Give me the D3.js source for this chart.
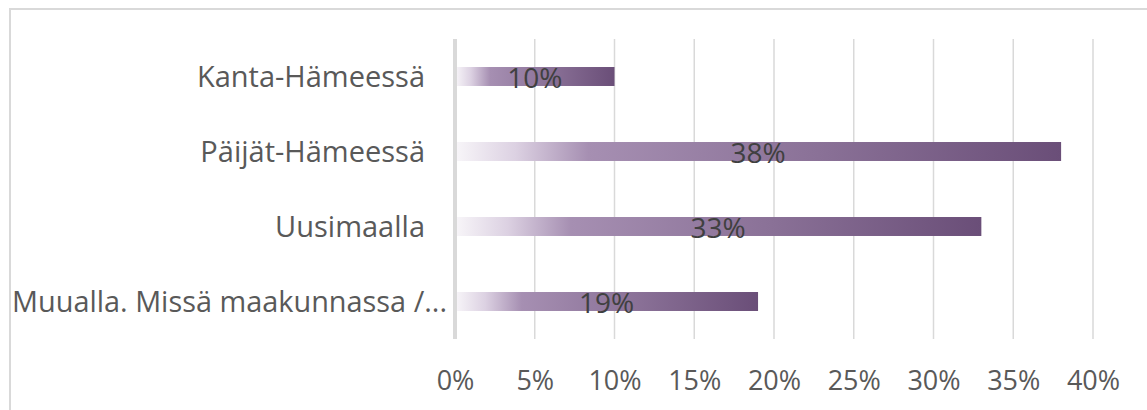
<!DOCTYPE html>
<html><head><meta charset="utf-8">
<script src="https://cdn.jsdelivr.net/npm/d3@7"></script>
<style>
html,body{margin:0;padding:0;background:#fff;}
svg{display:block;font-family:"Open Sans",sans-serif;}
</style></head>
<body>
<svg id="chart" width="1147" height="410"></svg>
<script>
const categories = ["Kanta-Hämeessä", "Päijät-Hämeessä", "Uusimaalla", "Muualla. Missä maakunnassa /..."];
const values = [10, 38, 33, 19];
const tickValues = [0, 5, 10, 15, 20, 25, 30, 35, 40];
const tickLabels = ["0%", "5%", "10%", "15%", "20%", "25%", "30%", "35%", "40%"];

const svg = d3.select("#chart");
const W = 1147, H = 410;
const plot = {left: 455, right: 1093, top: 39, bottom: 339};

const x = d3.scaleLinear().domain([0, 40]).range([plot.left, plot.right]);
const y = d3.scaleBand().domain(categories).range([plot.top, plot.bottom])
  .paddingInner(0.747).paddingOuter(0.3735);

// frame
svg.append("rect").attr("x", 10).attr("y", 9).attr("width", W + 20).attr("height", H + 20)
  .attr("fill", "#fff").attr("stroke", "#d9d9d9").attr("stroke-width", 2);

// gradient
const defs = svg.append("defs");
const grad = defs.append("linearGradient").attr("id", "barGrad")
  .attr("x1", "0%").attr("x2", "100%").attr("y1", "0%").attr("y2", "0%");
[[0, "#f8f6f9"], [0.1, "#dcd1e2"], [0.22, "#a68fb2"], [0.6, "#8a7197"], [1, "#6a4e78"]]
  .forEach(([o, c]) => grad.append("stop").attr("offset", o).attr("stop-color", c));

// gridlines
svg.append("g").selectAll("line").data(tickValues.filter(d => d > 0)).join("line")
  .attr("x1", d => x(d)).attr("x2", d => x(d))
  .attr("y1", plot.top).attr("y2", plot.bottom)
  .attr("stroke", "#d9d9d9").attr("stroke-width", 1.5);

// bars
svg.append("g").selectAll("rect").data(categories).join("rect")
  .attr("x", x(0)).attr("y", d => y(d))
  .attr("width", (d, i) => x(values[i]) - x(0))
  .attr("height", y.bandwidth())
  .attr("fill", "url(#barGrad)");

// vertical axis line
svg.append("line").attr("x1", x(0)).attr("x2", x(0))
  .attr("y1", plot.top).attr("y2", plot.bottom)
  .attr("stroke", "#d9d9d9").attr("stroke-width", 4);

// x axis
const xAxis = d3.axisBottom(x).tickValues(tickValues)
  .tickFormat((d, i) => tickLabels[i]).tickSize(0).tickPadding(0);
const gx = svg.append("g").attr("transform", `translate(0,${plot.bottom})`).call(xAxis);
gx.select(".domain").remove();
gx.selectAll("text").attr("y", 51).attr("dy", 0)
  .attr("font-family", "Open Sans, sans-serif").attr("font-size", 27).attr("fill", "#595959");

// y axis
const yAxis = d3.axisLeft(y).tickSize(0).tickPadding(0);
const gy = svg.append("g").attr("transform", `translate(425,0)`).call(yAxis);
gy.select(".domain").remove();
gy.selectAll("text").attr("dy", "0.35em")
  .attr("font-family", "Open Sans, sans-serif").attr("font-size", 29).attr("fill", "#595959");
// truncated long label spans the full available width
gy.selectAll("text").filter((d, i) => i === categories.length - 1)
  .attr("x", 22).attr("textLength", 435).attr("lengthAdjust", "spacingAndGlyphs");

// data labels
svg.append("g").selectAll("text").data(categories).join("text")
  .attr("x", (d, i) => (x(0) + x(values[i])) / 2)
  .attr("y", d => y(d) + y.bandwidth() / 2 + 11)
  .attr("text-anchor", "middle")
  .attr("font-size", 28).attr("fill", "#404040")
  .text((d, i) => values[i] + "%");
</script>
</body></html>
